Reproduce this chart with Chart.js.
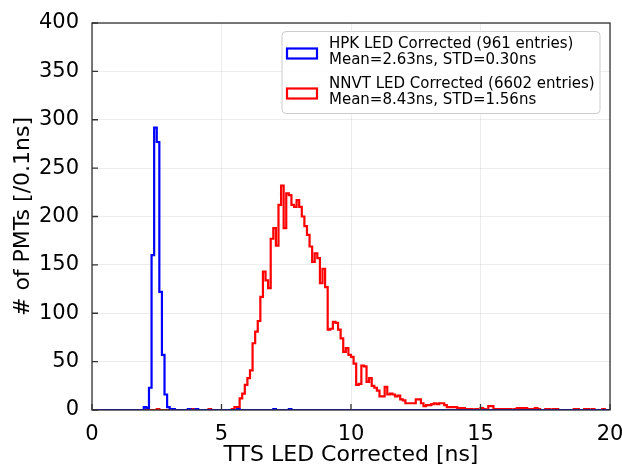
<!DOCTYPE html>
<html>
<head>
<meta charset="utf-8">
<title>TTS LED Corrected</title>
<script src="https://cdn.jsdelivr.net/npm/chart.js@4.4.1/dist/chart.umd.min.js"></script>
<style>
  html, body { margin: 0; padding: 0; background: #fff; }
  #wrap { width: 622px; height: 465px; }
</style>
</head>
<body>
<div id="wrap"><canvas id="chart-tts" width="622" height="465"></canvas></div>
<script>
// ============================================================
// TTS histograms, 0.1 ns bins from 0 to 20 ns (200 bins each)
// ============================================================

var binWidth = 0.1;
var xTicks = [0, 5, 10, 15, 20];
var yTicks = [0, 50, 100, 150, 200, 250, 300, 350, 400];

// HPK counts per bin
var hpkCounts = [
  0, 0, 0, 0, 0, 0, 0, 0, 0, 0,   0, 0, 0, 0, 0, 0, 0, 0, 0, 0,
  0, 3, 2, 23, 160, 292, 277, 122, 57, 16,   3, 1, 1, 0, 0, 0, 0, 0, 1, 0,
  0, 1, 0, 0, 0, 0, 0, 0, 0, 0,   0, 0, 0, 0, 0, 0, 0, 1, 0, 0,
  0, 0, 0, 0, 0, 0, 0, 0, 0, 0,   0, 1, 0, 0, 0, 0, 0, 1, 0, 0,
  0, 0, 0, 0, 0, 0, 0, 0, 0, 0,   0, 0, 0, 0, 0, 0, 0, 0, 0, 0,
  0, 0, 0, 0, 0, 0, 0, 0, 0, 0,   0, 0, 0, 0, 0, 0, 0, 0, 0, 0,
  0, 0, 0, 0, 0, 0, 0, 0, 0, 0,   0, 0, 0, 0, 0, 0, 0, 0, 0, 0,
  0, 0, 0, 0, 0, 0, 0, 0, 0, 0,   0, 0, 0, 0, 0, 0, 0, 0, 0, 0,
  0, 0, 0, 0, 0, 0, 0, 0, 0, 0,   0, 0, 0, 0, 0, 0, 0, 0, 0, 0,
  0, 0, 0, 0, 0, 0, 0, 0, 0, 0,   0, 0, 0, 0, 0, 0, 0, 0, 0, 0
];

// NNVT counts per bin
var nnvtCounts = [
  0, 0, 0, 0, 0, 0, 0, 0, 0, 0,   0, 0, 0, 0, 0, 0, 0, 0, 0, 0,
  0, 0, 0, 0, 0, 0, 1, 0, 0, 0,   0, 0, 0, 0, 0, 0, 0, 0, 0, 1,
  1, 0, 0, 0, 0, 0, 1, 0, 0, 0,   0, 0, 0, 0, 0, 1, 3, 3, 12, 17,
  26, 33, 41, 69, 81, 92, 117, 143, 134, 126,   177, 188, 170, 212, 232, 188, 224, 222, 212, 210,
  217, 210, 200, 190, 181, 169, 153, 162, 157, 131,   146, 127, 83, 84, 91, 90, 83, 74, 60, 64,
  57, 55, 48, 26, 27, 46, 45, 29, 33, 25,   23, 20, 14, 14, 24, 16, 17, 16, 14, 15,
  11, 10, 7, 7, 7, 7, 11, 11, 7, 4,   5, 5, 6, 7, 6, 7, 7, 5, 3, 3,
  3, 3, 2, 2, 2, 1, 1, 1, 0, 1,   0, 2, 1, 0, 4, 4, 1, 1, 1, 1,
  1, 1, 1, 0, 1, 2, 2, 2, 2, 1,   1, 1, 2, 1, 0, 0, 1, 1, 0, 1,
  1, 0, 0, 0, 0, 0, 0, 1, 1, 0,   0, 1, 1, 0, 1, 0, 0, 0, 1, 0
];

var seriesColors = ['#0000ff', '#ff0000'];
var legendEntries = [
  ['HPK LED Corrected (961 entries)', 'Mean=2.63ns, STD=0.30ns'],
  ['NNVT LED Corrected (6602 entries)', 'Mean=8.43ns, STD=1.56ns']
];
var xTitle = 'TTS LED Corrected [ns]';
var yTitle = '# of PMTs [/0.1ns]';

var FONT = "'DejaVu Sans', 'Liberation Sans', sans-serif";

// step outline: one point per bin left edge, plus the closing edge
function toSteps(counts) {
  var pts = counts.map(function(c, i) { return { x: i * binWidth, y: c }; });
  pts.push({ x: counts.length * binWidth, y: counts[counts.length - 1] });
  return pts;
}

// box + inward ticks (matplotlib look)
var framePlugin = {
  id: 'frame',
  afterDatasetsDraw: function(chart) {
    var ctx = chart.ctx, a = chart.chartArea;
    var sx = chart.scales.x, sy = chart.scales.y;
    ctx.save();
    ctx.strokeStyle = '#333333';
    ctx.lineWidth = 1.3;
    ctx.beginPath();
    sx.ticks.forEach(function(t) {
      var px = sx.getPixelForValue(t.value);
      ctx.moveTo(px, a.bottom);
      ctx.lineTo(px, a.bottom - 6);
    });
    sy.ticks.forEach(function(t) {
      var py = sy.getPixelForValue(t.value);
      ctx.moveTo(a.left, py);
      ctx.lineTo(a.left + 6, py);
    });
    ctx.stroke();
    ctx.strokeRect(a.left, a.top, a.right - a.left, a.bottom - a.top);
    ctx.restore();
  }
};

var legendPlugin = {
  id: 'legendBox',
  afterDraw: function(chart) {
    var ctx = chart.ctx, a = chart.chartArea;
    var boxW = 318, boxH = 82;
    var bx = a.right - 10 - boxW, by = a.top + 8.5;
    ctx.save();
    ctx.beginPath();
    ctx.roundRect(bx, by, boxW, boxH, 4);
    ctx.fillStyle = 'rgba(255,255,255,0.85)';
    ctx.fill();
    ctx.strokeStyle = '#cccccc';
    ctx.lineWidth = 1;
    ctx.stroke();
    legendEntries.forEach(function(lines, i) {
      var cy = by + 22 + i * 40;
      ctx.strokeStyle = seriesColors[i];
      ctx.lineWidth = 2.2;
      ctx.strokeRect(bx + 5, cy - 5, 30, 10);
      ctx.fillStyle = '#000';
      ctx.font = '15px ' + FONT;
      ctx.textBaseline = 'middle';
      ctx.textAlign = 'left';
      lines.forEach(function(t, j) {
        ctx.fillText(t, bx + 47, cy - 9.7 + j * 16.3);
      });
    });
    ctx.restore();
  }
};

function makeDataset(label, counts, color) {
  return {
    label: label,
    data: toSteps(counts),
    borderColor: color,
    backgroundColor: color,
    borderWidth: 2.2,
    stepped: 'after',
    pointRadius: 0,
    fill: false,
    clip: 0
  };
}

var ctx = document.getElementById('chart-tts').getContext('2d');
new Chart(ctx, {
  type: 'line',
  data: {
    datasets: [
      makeDataset(legendEntries[0][0], hpkCounts, seriesColors[0]),
      makeDataset(legendEntries[1][0], nnvtCounts, seriesColors[1])
    ]
  },
  options: {
    responsive: false,
    animation: false,
    events: [],
    layout: { padding: { top: 23, right: 12, left: 0, bottom: 0 } },
    plugins: {
      legend: { display: false },
      tooltip: { enabled: false }
    },
    scales: {
      x: {
        type: 'linear',
        min: 0,
        max: 20,
        afterBuildTicks: function(scale) { scale.ticks = xTicks.map(function(v) { return { value: v }; }); },
        afterFit: function(scale) { scale.height = 55; scale.paddingLeft = 0; scale.paddingRight = 0; },
        grid: { color: 'rgba(0,0,0,0.07)', drawTicks: false },
        border: { display: false },
        ticks: { color: '#000', padding: 12, maxRotation: 0, font: { family: FONT, size: 21 } },
        title: { display: true, text: xTitle, color: '#000', padding: { top: 0, bottom: -3 }, font: { family: FONT, size: 22 } }
      },
      y: {
        min: 0,
        max: 400,
        afterBuildTicks: function(scale) { scale.ticks = yTicks.map(function(v) { return { value: v }; }); },
        afterFit: function(scale) { scale.width = 92; scale.paddingTop = 0; scale.paddingBottom = 0; },
        grid: { color: 'rgba(0,0,0,0.07)', drawTicks: false },
        border: { display: false },
        ticks: { color: '#000', padding: 13, font: { family: FONT, size: 21 } },
        title: { display: true, text: yTitle, color: '#000', padding: { top: 10, bottom: 0 }, font: { family: FONT, size: 22 } }
      }
    }
  },
  plugins: [framePlugin, legendPlugin]
});
</script>
</body>
</html>
